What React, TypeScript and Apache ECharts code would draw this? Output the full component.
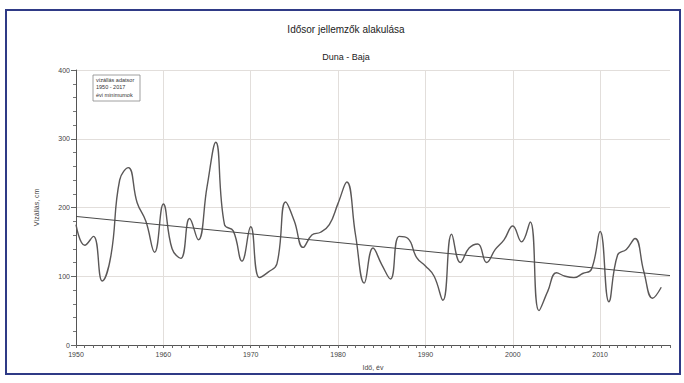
import React, { useEffect, useRef } from "react";
import * as echarts from "echarts";

const years: number[] = [
  1950, 1951, 1952, 1953, 1954, 1955, 1956, 1957, 1958, 1959,
  1960, 1961, 1962, 1963, 1964, 1965, 1966, 1967, 1968, 1969,
  1970, 1971, 1972, 1973, 1974, 1975, 1976, 1977, 1978, 1979,
  1980, 1981, 1982, 1983, 1984, 1985, 1986, 1987, 1988, 1989,
  1990, 1991, 1992, 1993, 1994, 1995, 1996, 1997, 1998, 1999,
  2000, 2001, 2002, 2003, 2004, 2005, 2006, 2007, 2008, 2009,
  2010, 2011, 2012, 2013, 2014, 2015, 2016, 2017,
];

const minimums: number[] = [
  175, 145, 158, 93, 130, 240, 258, 207, 180, 135,
  205, 140, 126, 184, 153, 230, 295, 175, 166, 122,
  172, 98, 106, 118, 208, 180, 142, 160, 164, 175,
  206, 237, 160, 90, 141, 117, 96, 158, 155, 127,
  115, 100, 65, 161, 120, 141, 147, 120, 139, 153,
  173, 150, 179, 50, 78, 105, 100, 98, 104, 110,
  165, 63, 131, 139, 155, 107, 68, 84,
];

const trendYears: number[] = [1950, 2018];
const trendValues: number[] = [187, 101];

const legendLines: string[] = ["vízállás adatsor", "1950 - 2017", "évi minimumok"];

const titleText = "Idősor jellemzők alakulása";
const subtitleText = "Duna - Baja";
const xName = "Idő, év";
const yName = "Vízállás, cm";

const FONT = "'Liberation Sans', Arial, sans-serif";

export default function App() {
  const ref = useRef<HTMLDivElement>(null);

  useEffect(() => {
    if (!ref.current) return;
    const chart = echarts.init(ref.current, null, { renderer: "svg" });

    chart.setOption({
      animation: false,
      backgroundColor: "#ffffff",
      textStyle: { fontFamily: FONT },
      title: [
        {
          text: titleText,
          left: 341,
          top: 19,
          textAlign: "center",
          textStyle: { fontSize: 10, fontWeight: "normal", color: "#222", fontFamily: FONT },
        },
        {
          text: subtitleText,
          left: 341,
          top: 47,
          textAlign: "center",
          textStyle: { fontSize: 9, fontWeight: "normal", color: "#222", fontFamily: FONT },
        },
      ],
      grid: { left: 76, top: 70, right: 14, bottom: 38, containLabel: false },
      xAxis: [
        {
          type: "value",
          min: 1950,
          max: 2018,
          interval: 1,
          name: xName,
          nameLocation: "middle",
          nameGap: 19,
          nameTextStyle: { fontSize: 7, color: "#444", fontFamily: FONT },
          axisLine: { show: true, lineStyle: { color: "#555", width: 1 } },
          axisTick: { show: true, length: 3, lineStyle: { color: "#666" } },
          axisLabel: {
            fontSize: 7,
            color: "#444",
            margin: 6,
            fontFamily: FONT,
            formatter: (v: number) => (v % 10 === 0 && v < 2018 ? String(v) : ""),
          },
          splitLine: { show: false },
        },
        {
          type: "value",
          min: 1950,
          max: 2018,
          interval: 10,
          position: "bottom",
          axisLine: { show: false },
          axisTick: { show: false },
          axisLabel: { show: false },
          splitLine: {
            show: true,
            showMinLine: false,
            showMaxLine: false,
            lineStyle: { color: "#e2dedb", width: 1 },
          },
        },
      ],
      yAxis: {
        type: "value",
        min: 0,
        max: 400,
        interval: 100,
        name: yName,
        nameLocation: "middle",
        nameGap: 36,
        nameTextStyle: { fontSize: 7, color: "#444", fontFamily: FONT },
        axisLine: { show: true, lineStyle: { color: "#555", width: 1 } },
        axisTick: { show: true, length: 5, lineStyle: { color: "#666" } },
        minorTick: { show: true, splitNumber: 5, length: 3, lineStyle: { color: "#777" } },
        axisLabel: { fontSize: 7, color: "#444", margin: 6, fontFamily: FONT },
        splitLine: { show: true, lineStyle: { color: "#e2dedb", width: 1 } },
      },
      series: [
        {
          type: "line",
          xAxisIndex: 0,
          data: years.map((y, i) => [y, minimums[i]]),
          smooth: 0.45,
          showSymbol: false,
          lineStyle: { color: "#5a5757", width: 1.4 },
        },
        {
          type: "line",
          xAxisIndex: 0,
          data: trendYears.map((y, i) => [y, trendValues[i]]),
          showSymbol: false,
          lineStyle: { color: "#4a4a4a", width: 1 },
        },
      ],
      graphic: [
        {
          type: "rect",
          shape: { x: 6, y: 10, width: 674, height: 364 },
          style: { fill: "none", stroke: "#2f3a86", lineWidth: 2 },
          silent: true,
        },
        {
          type: "rect",
          shape: { x: 93, y: 75, width: 47, height: 26 },
          style: { fill: "#ffffff", stroke: "#888", lineWidth: 0.8 },
          silent: true,
        },
        ...legendLines.map((t, i) => ({
          type: "text",
          x: 96,
          y: 77 + i * 7.3,
          style: { text: t, fontSize: 5.5, fill: "#333", fontFamily: FONT },
          silent: true,
        })),
      ],
    });

    return () => chart.dispose();
  }, []);

  return (
    <div
      ref={ref}
      style={{ position: "fixed", left: 0, top: 0, width: 684, height: 383 }}
    />
  );
}
